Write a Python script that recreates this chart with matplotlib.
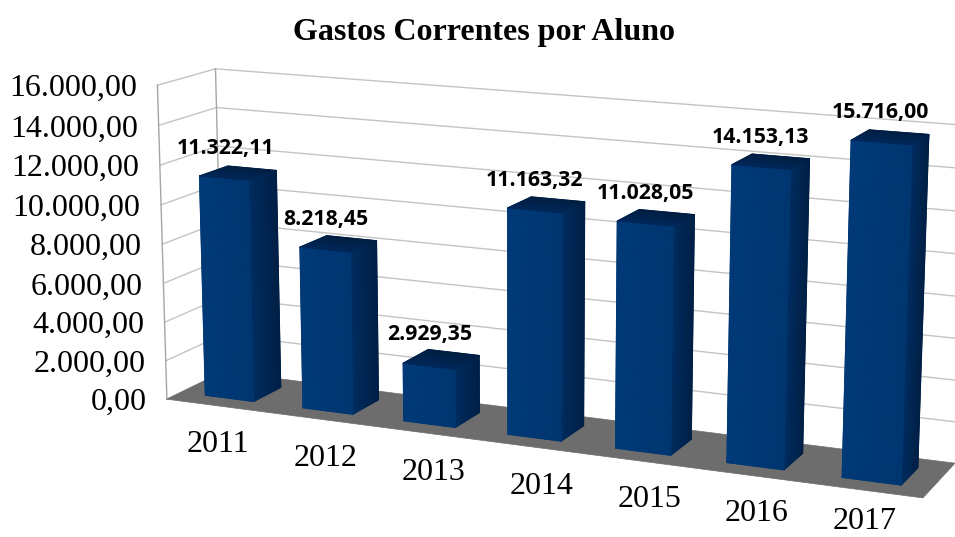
import numpy as np
import matplotlib
matplotlib.use("Agg")
import matplotlib.pyplot as plt
from matplotlib.patches import Polygon
from matplotlib.colors import LinearSegmentedColormap

# ---- data ----
title = "Gastos Correntes por Aluno"
years = ["2011", "2012", "2013", "2014", "2015", "2016", "2017"]
values = [11322.11, 8218.45, 2929.35, 11163.32, 11028.05, 14153.13, 15716.00]
ticks = [0, 2000, 4000, 6000, 8000, 10000, 12000, 14000, 16000]

def br(v):
    return f"{v:,.2f}".replace(",", "X").replace(".", ",").replace("X", ".")

# ---- camera: 3-D box corners (category, depth, value) -> picture position ----
box_world = np.array([[0, 0, 0], [0, 1, 0], [7, 1, 0], [7, 0, 0],
                      [0, 0, 16000], [0, 1, 16000], [7, 1, 16000], [7, 0, 16000]], float)
box_pixel = np.array([[167, 398], [223, 373], [955, 463], [923, 498],
                      [157, 85], [216, 69], [967, 124], [935, 148]], float)
zs = 1 / 16000.0
rows, rhs = [], []
for (x, d, z), (u, v) in zip(box_world, box_pixel):
    z = z * zs
    rows.append([x, d, z, 1, 0, 0, 0, 0, -u * x, -u * d, -u * z]); rhs.append(u)
    rows.append([0, 0, 0, 0, x, d, z, 1, -v * x, -v * d, -v * z]); rhs.append(v)
P = np.linalg.lstsq(np.array(rows), np.array(rhs), rcond=None)[0]
P = np.append(P, 1).reshape(3, 4)

def proj(x, d, z):
    w = P @ np.array([x, d, z * zs, 1.0])
    return w[0] / w[2], w[1] / w[2]

# ---- figure ----
fig = plt.figure(figsize=(9.55, 5.37), dpi=100, facecolor="white")
ax = fig.add_axes([0, 0, 1, 1])
ax.set_xlim(0, 955)
ax.set_ylim(537, 0)
ax.axis("off")

def flat(pts, color, z=3):
    ax.add_patch(Polygon([proj(*p) for p in pts], closed=True, facecolor=color,
                         edgecolor=color, lw=0.5, zorder=z))

def shaded(pts, c_start, c_end, z=3):
    """Quad a-b-c-d whose colour runs from edge a-d to edge b-c."""
    a, b, c, d = [proj(*p) for p in pts]
    mid = tuple((np.array(matplotlib.colors.to_rgb(c_start)) +
                 np.array(matplotlib.colors.to_rgb(c_end))) / 2)
    ax.add_patch(Polygon([a, b, c, d], closed=True, facecolor=mid, edgecolor=mid,
                         lw=0.5, zorder=z))
    X = np.array([[a[0], b[0]], [d[0], c[0]]])
    Y = np.array([[a[1], b[1]], [d[1], c[1]]])
    cmap = LinearSegmentedColormap.from_list("f", [c_start, c_end])
    ax.pcolormesh(X, Y, np.array([[0., 1.], [0., 1.]]), cmap=cmap, vmin=0, vmax=1,
                  shading="gouraud", zorder=z + 0.1)

GRID = "#c4c4c4"
EDGE = "#a6a6a6"
for t in ticks[1:]:
    xs, ys = zip(proj(0, 0, t), proj(0, 1, t), proj(7, 1, t))
    ax.plot(xs, ys, color=GRID, lw=1.0, zorder=1)
for d in (0, 1):
    ax.plot(*zip(proj(0, d, 0), proj(0, d, 16000)), color=EDGE, lw=1.0, zorder=1)
ax.plot(*zip(proj(0, 0, 0), proj(0, 1, 0)), color=EDGE, lw=1.0, zorder=1)

# floor
flat([(0, 0, 0), (0, 1, 0), (7, 1, 0), (7, 0, 0)], "#6d6d6d", z=2)

# bars
x_lo, x_hi = 0.25, 0.75
d_lo, d_hi = 0.25, 0.75
for i, v in enumerate(values):
    x0, x1 = i + x_lo, i + x_hi
    shaded([(x1, d_lo, 0), (x1, d_hi, 0), (x1, d_hi, v), (x1, d_lo, v)], "#002d60", "#001f45")
    shaded([(x0, d_lo, 0), (x1, d_lo, 0), (x1, d_lo, v), (x0, d_lo, v)], "#013a78", "#003670")
    shaded([(x0, d_lo, v), (x0, d_hi, v), (x1, d_hi, v), (x1, d_lo, v)], "#00285a", "#001e40")
    tx, ty = proj(i + 0.5, 0.5, v)
    ax.text(tx - 13 + 0.5 * i, ty - 24.5, br(v), ha="center", va="center", zorder=5,
            family="Open Sans", fontweight="bold", fontsize=15.3, color="black")

# category labels run evenly along the front of the chart
for i, y in enumerate(years):
    ax.text(218 + 107.8 * i, min(445 + 13.7 * i, 521.5), y, ha="center", va="center", zorder=5,
            family="Liberation Serif", fontsize=23, color="black")

for t in ticks:
    fx, fy = proj(0, 0, t)
    ax.text(fx - 20.5, fy + 3.5, br(t), ha="right", va="center", zorder=5,
            family="Liberation Serif", fontsize=23, color="black")

ax.text(483.5, 32.5, title, ha="center", va="center", family="Liberation Serif",
        fontweight="bold", fontsize=23, color="black")

fig.savefig("out.png", dpi=100, facecolor="white")
